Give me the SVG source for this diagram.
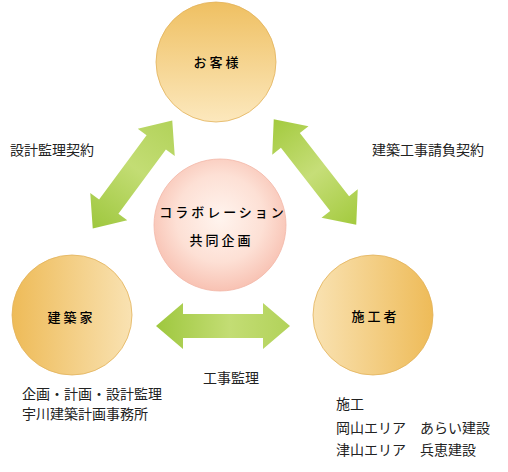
<svg xmlns="http://www.w3.org/2000/svg" width="508" height="472" viewBox="0 0 508 472">
<defs>
<style>
.lbl{font-family:"Noto Sans CJK JP","Noto Sans",sans-serif;font-size:13px;letter-spacing:3px;fill:#000;text-anchor:middle;font-weight:500}
.txt{font-family:"Noto Sans CJK JP","Noto Sans",sans-serif;font-size:14px;fill:#222}
.circ{stroke:#e2b35c;stroke-width:0.8}
</style>
<linearGradient id="gTop" x1="0" y1="0" x2="0" y2="1">
<stop offset="0" stop-color="#efc062"/><stop offset="1" stop-color="#fce8bd"/>
</linearGradient>
<linearGradient id="gLeft" x1="0" y1="0" x2="1" y2="0">
<stop offset="0" stop-color="#eebb58"/><stop offset="1" stop-color="#f9e2b2"/>
</linearGradient>
<linearGradient id="gRight" x1="0" y1="0" x2="1" y2="0">
<stop offset="0" stop-color="#f9e2b2"/><stop offset="1" stop-color="#eebb58"/>
</linearGradient>
<radialGradient id="gPink" cx="0.5" cy="0.45" r="0.55">
<stop offset="0" stop-color="#fff4ee"/><stop offset="0.6" stop-color="#fde0d5"/><stop offset="1" stop-color="#f8c2b3"/>
</radialGradient>
<linearGradient id="gArrow" x1="0" y1="0" x2="1" y2="0">
<stop offset="0" stop-color="#9ec73e"/><stop offset="0.55" stop-color="#c3dd74"/><stop offset="1" stop-color="#b2d25a"/>
</linearGradient>
<linearGradient id="gArrow2" x1="0" y1="0" x2="1" y2="0">
<stop offset="0" stop-color="#a3ca3e"/><stop offset="0.5" stop-color="#c6de78"/><stop offset="1" stop-color="#a3ca3e"/>
</linearGradient>
<path id="arrow" d="M-67,0 L-40,-23 L-40,-12 L40,-12 L40,-23 L67,0 L40,23 L40,12 L-40,12 L-40,23 Z"/>
</defs>
<rect width="508" height="472" fill="#fff"/>
<g id="connectors">
<use href="#arrow" fill="url(#gArrow)" transform="translate(132.5,174.5) rotate(-53.6)"/>
<use href="#arrow" fill="url(#gArrow2)" transform="translate(315,172) rotate(52)"/>
<use href="#arrow" fill="url(#gArrow)" transform="translate(223,326)"/>
</g>
<g id="customer">
<circle class="circ" cx="216" cy="62" r="60" fill="url(#gTop)"/>
<text class="lbl" x="217.5" y="67">お客様</text>
</g>
<g id="collaboration">
<circle cx="220" cy="225" r="66" fill="url(#gPink)" stroke="#f3b8a8" stroke-width="0.8"/>
<text class="lbl" x="223" y="217">コラボレーション</text>
<text class="lbl" x="221.5" y="245">共同企画</text>
</g>
<g id="architect">
<circle class="circ" cx="72" cy="315" r="60" fill="url(#gLeft)"/>
<text class="lbl" x="71.5" y="322">建築家</text>
</g>
<g id="contractor">
<circle class="circ" cx="373" cy="315" r="60" fill="url(#gRight)"/>
<text class="lbl" x="375.5" y="321">施工者</text>
</g>
<g id="labels">
<text class="txt" x="10" y="155">設計監理契約</text>
<text class="txt" x="372" y="155">建築工事請負契約</text>
<text class="txt" x="203" y="383">工事監理</text>
<text class="txt" x="22" y="399">企画・計画・設計監理</text>
<text class="txt" x="22" y="419">宇川建築計画事務所</text>
<text class="txt" x="336" y="409">施工</text>
<text class="txt" x="336" y="433">岡山エリア　あらい建設</text>
<text class="txt" x="336" y="455">津山エリア　兵恵建設</text>
</g>
</svg>
